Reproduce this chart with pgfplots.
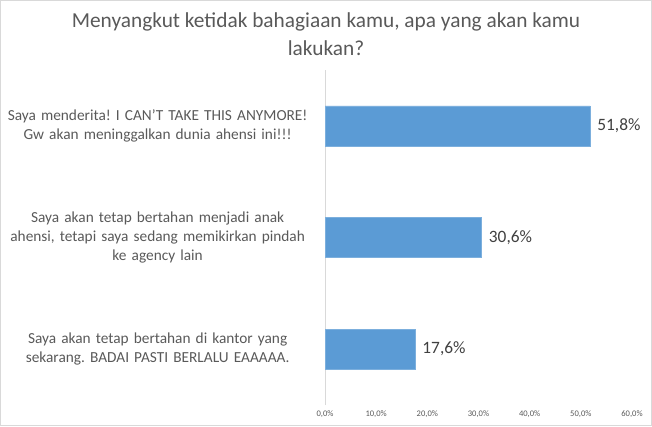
\documentclass[border=0pt]{standalone}
\usepackage{pgfplots}
\pgfplotsset{compat=1.18}
\usepackage{fontspec}
\setmainfont{Carlito}
\frenchspacing
\definecolor{barblue}{HTML}{5B9BD5}
\definecolor{txt}{HTML}{595959}
\definecolor{lbl}{HTML}{404040}
\definecolor{frame}{HTML}{D9D9D9}
\begin{document}
\begin{tikzpicture}
\useasboundingbox (0,0) rectangle (489pt,319.5pt);
\draw[frame,line width=0.75pt] (0.4pt,0.4pt) rectangle (488.6pt,319.1pt);
\node[text=txt,font=\fontsize{16pt}{21pt}\selectfont,align=center] at (244.5pt,294pt)
  {Menyangkut ketidak bahagiaan kamu, apa yang akan kamu\\lakukan?};
\begin{axis}[
  at={(243.75pt,15.75pt)}, anchor=south west,
  scale only axis, width=230.25pt, height=251.25pt,
  xbar, bar width=30pt,
  xmin=0, xmax=60, ymin=-0.5, ymax=2.5,
  axis lines*=left,
  x axis line style={draw=none},
  y axis line style={draw=frame, line width=0.75pt},
  major tick length=0pt,
  xtick={0,10,20,30,40,50,60},
  xticklabels={{0,0\%},{10,0\%},{20,0\%},{30,0\%},{40,0\%},{50,0\%},{60,0\%}},
  xticklabel style={font=\fontsize{6.4pt}{7pt}\selectfont, text=txt, yshift=-1pt},
  ytick={0,1,2},
  yticklabels={
    {Saya akan tetap bertahan di kantor yang\\sekarang. BADAI PASTI BERLALU EAAAAA.},
    {Saya akan tetap bertahan menjadi anak\\ahensi, tetapi saya sedang memikirkan pindah\\ke agency lain},
    {Saya menderita! I CAN{\char"27}T TAKE THIS ANYMORE!\\Gw akan meninggalkan dunia ahensi ini!!!}},
  yticklabel style={font=\fontsize{11.5pt}{14.25pt}\selectfont, text=txt, text width=228pt, align=center, xshift=-8pt},
  /pgf/number format/assume math mode=true,
  point meta=explicit symbolic,
  nodes near coords,
  nodes near coords style={font=\fontsize{13pt}{15pt}\selectfont, text=lbl, anchor=west, xshift=2pt},
]
\addplot[fill=barblue, draw=barblue!80!white, line width=0.4pt] coordinates {
  (17.6,0) [17,6\%]
  (30.6,1) [30,6\%]
  (51.8,2) [51,8\%]
};
\end{axis}
\end{tikzpicture}
\end{document}
